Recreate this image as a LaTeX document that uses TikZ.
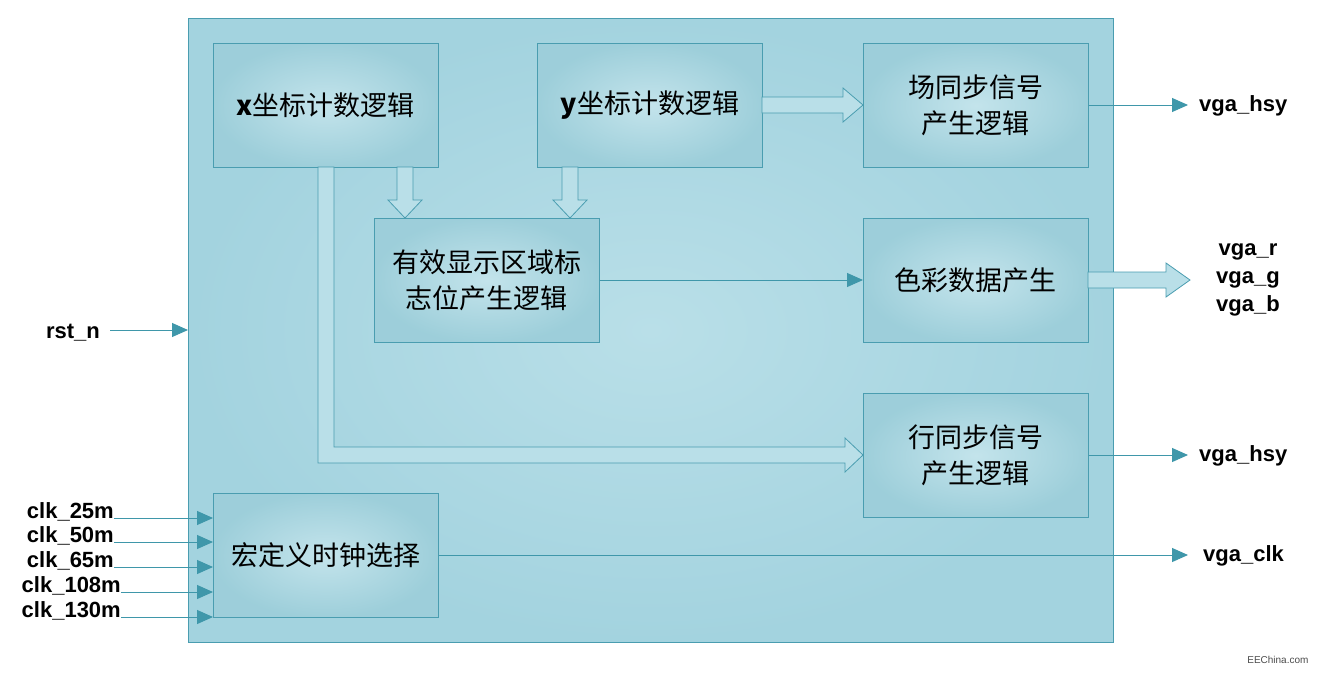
\documentclass[tikz,border=0pt]{standalone}
\usepackage{fontspec}
\setmainfont{Liberation Sans}
\newfontfamily\cjk{Noto Sans CJK SC}
\usetikzlibrary{arrows.meta}
\definecolor{outerc}{HTML}{A3D3DF}
\definecolor{boxc}{HTML}{B9DFE8}
\definecolor{edgec}{HTML}{4A9DB0}
\definecolor{arrc}{HTML}{3F97AA}
\tikzset{
  blk/.style={draw=edgec,line width=0.8pt,inner color=boxc!85!white,outer color=boxc!75!edgec,minimum width=225pt,minimum height=124pt,anchor=north west,align=center,font=\cjk\fontsize{27}{36}\selectfont},
  thin/.style={draw=arrc,line width=1pt,-{Triangle[length=16pt,width=14pt]}},
  fat/.style={draw=edgec,fill=boxc,line width=0.8pt},
  lbl/.style={font=\bfseries\fontsize{22}{23}\selectfont,inner sep=0pt}
}
\begin{document}
\begin{tikzpicture}[x=1pt,y=-1pt]
\useasboundingbox (0,0) rectangle (1321,672);
\fill[white] (0,0) rectangle (1321,672);
\node[draw=edgec,line width=0.8pt,inner color=boxc,outer color=outerc,minimum width=925pt,minimum height=624pt,anchor=north west] (outer) at (188,18) {};
\node[blk] (xb) at (213,43) {\textbf{x}坐标计数逻辑};
\node[blk] (yb) at (537,43) {\textbf{y}坐标计数逻辑};
\node[blk] (vs) at (863,43) {场同步信号\\产生逻辑};
\node[blk] (en) at (374,218) {有效显示区域标\\志位产生逻辑};
\node[blk] (col) at (863,218) {色彩数据产生};
\node[blk] (hs) at (863,393) {行同步信号\\产生逻辑};
\node[blk] (clk) at (213,493) {宏定义时钟选择};
% fat arrows
\draw[fat] (762,97) -- (843,97) -- (843,88) -- (863,105) -- (843,122) -- (843,113) -- (762,113) -- cycle;
\draw[fat] (1088,272) -- (1166,272) -- (1166,263) -- (1190,280) -- (1166,297) -- (1166,288) -- (1088,288) -- cycle;
\draw[fat] (397,167) -- (413,167) -- (413,200) -- (422,200) -- (405,218) -- (388,200) -- (397,200) -- cycle;
\draw[fat] (562,167) -- (578,167) -- (578,200) -- (587,200) -- (570,218) -- (553,200) -- (562,200) -- cycle;
\draw[fat] (318,167) -- (334,167) -- (334,447) -- (845,447) -- (845,438) -- (863,455) -- (845,472) -- (845,463) -- (318,463) -- cycle;
% thin arrows
\draw[thin] (en.east |- 0,280) -- (col.west |- 0,280);
\node[lbl,anchor=west] (ohs1) at (1199,106) {vga\_hsy};
\node[lbl,anchor=west] (ohs2) at (1199,456) {vga\_hsy};
\node[lbl,anchor=west] (oclk) at (1203,556) {vga\_clk};
\node[lbl,align=center] (orgb) at (1248,280) {vga\_r\\[5pt]vga\_g\\[5pt]vga\_b};
\coordinate (e1) at (1188,105);
\coordinate (e2) at (1188,455);
\coordinate (e3) at (1188,555);
\draw[thin] (vs.east |- e1) -- (e1);
\draw[thin] (hs.east |- e2) -- (e2);
\draw[thin] (clk.east |- e3) -- (e3);
\node[lbl,anchor=east] (rst) at (100,333) {rst\_n};
\draw[thin] (110,330) -- (outer.west |- 0,330);
\foreach \n/\t/\y/\xs in {a/25m/518/114,b/50m/542/114,c/65m/567/114,d/108m/592/121,e/130m/617/121}{
  \node[lbl,anchor=east] (c\n) at (\xs,\y-6) {clk\_\t};
  \draw[thin] (c\n.east |- 0,\y) -- (clk.west |- 0,\y);
}
\node[font=\fontsize{10}{10}\selectfont,anchor=south east,text=black!70] (wm) at (1312,667) {EEChina.com};
\end{tikzpicture}
\end{document}
